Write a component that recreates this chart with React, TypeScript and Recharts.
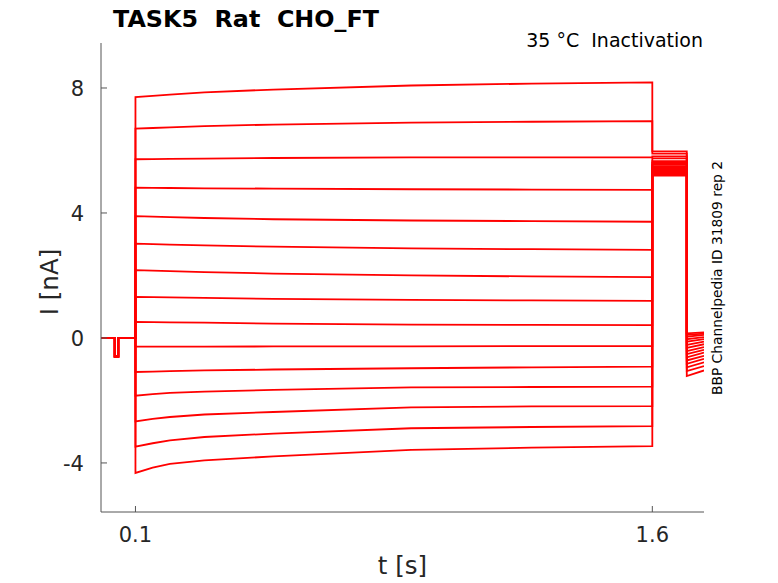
import React from "react";
import { LineChart, Line, XAxis, YAxis } from "recharts";

// holding period with the short test dip
const HOLD_T = [0, 0.04, 0.04, 0.05, 0.05, 0.1];
const HOLD_I = [0, 0, -0.6, -0.6, 0, 0];

// conditioning step, sampled times
const STEP_T = [0.1, 0.15, 0.2, 0.3, 0.5, 0.9, 1.25, 1.6];
const STEP_I = [
  [7.71, 7.75, 7.79, 7.86, 7.95, 8.08, 8.14, 8.18],
  [6.7, 6.72, 6.74, 6.78, 6.83, 6.89, 6.92, 6.94],
  [5.72, 5.725, 5.73, 5.74, 5.76, 5.78, 5.78, 5.78],
  [4.81, 4.805, 4.8, 4.79, 4.78, 4.76, 4.75, 4.74],
  [3.9, 3.885, 3.87, 3.84, 3.8, 3.76, 3.74, 3.72],
  [3.02, 3.005, 2.99, 2.96, 2.92, 2.87, 2.84, 2.82],
  [2.17, 2.155, 2.14, 2.11, 2.06, 2.0, 1.97, 1.95],
  [1.31, 1.305, 1.3, 1.28, 1.25, 1.22, 1.2, 1.19],
  [0.51, 0.505, 0.5, 0.49, 0.46, 0.43, 0.42, 0.41],
  [-0.28, -0.28, -0.28, -0.28, -0.27, -0.27, -0.26, -0.26],
  [-1.09, -1.075, -1.06, -1.04, -1.01, -0.97, -0.94, -0.92],
  [-1.85, -1.8, -1.76, -1.72, -1.66, -1.58, -1.57, -1.56],
  [-2.67, -2.59, -2.53, -2.45, -2.37, -2.22, -2.19, -2.18],
  [-3.48, -3.37, -3.28, -3.17, -3.06, -2.89, -2.85, -2.82],
  [-4.32, -4.15, -4.03, -3.92, -3.79, -3.58, -3.51, -3.46],
];

// test pulse and tail
const TEST_END = 1.7;
const TAIL_END = 1.75;
const TEST_I = [5.97, 5.9, 5.81, 5.75, 5.66, 5.6, 5.54, 5.49, 5.44, 5.4, 5.36, 5.32, 5.28, 5.24, 5.2];
const TAIL_START = [0.15, 0.1, 0.04, -0.04, -0.12, -0.22, -0.32, -0.42, -0.52, -0.62, -0.72, -0.83, -0.94, -1.06, -1.22];
const TAIL_STOP = [0.18, 0.14, 0.1, 0.03, -0.04, -0.12, -0.2, -0.29, -0.38, -0.47, -0.57, -0.67, -0.78, -0.9, -1.04];

const X_TICKS = [0.1, 1.6];
const Y_TICKS = [-4, 0, 4, 8];

const traces = STEP_I.map((step, k) => {
  const pts: { t: number; i: number }[] = [];
  HOLD_T.forEach((t, j) => pts.push({ t, i: HOLD_I[j] }));
  STEP_T.forEach((t, j) => pts.push({ t, i: step[j] }));
  pts.push({ t: 1.6, i: TEST_I[k] });
  pts.push({ t: TEST_END, i: TEST_I[k] });
  pts.push({ t: TEST_END, i: TAIL_START[k] });
  pts.push({ t: TAIL_END, i: TAIL_STOP[k] });
  return pts;
});

const FONT = "'DejaVu Sans', sans-serif";
const TXT = "#262626";
const AXIS = "#555";

const YTick = (props: any) => {
  const { x, y, payload } = props;
  const ax = x + 17;
  return (
    <g>
      <line x1={ax} y1={y} x2={ax + 6} y2={y} stroke={AXIS} />
      <text x={x} y={y} dy="0.36em" textAnchor="end" fontSize={21} fill={TXT} fontFamily={FONT}>
        {payload.value}
      </text>
    </g>
  );
};

const XTick = (props: any) => {
  const { x, y, payload } = props;
  const ay = y - 30;
  return (
    <g>
      <line x1={x} y1={ay} x2={x} y2={ay - 6} stroke={AXIS} />
      <text x={x} y={y} textAnchor="middle" fontSize={21} fill={TXT} fontFamily={FONT}>
        {payload.value.toFixed(1)}
      </text>
    </g>
  );
};

export default function App() {
  return (
    <div style={{ position: "absolute", left: 0, top: 0, width: 778, height: 583, background: "#fff" }}>
      <LineChart width={778} height={583} margin={{ top: 43, right: 74, bottom: 0, left: 0 }}>
        <XAxis
          type="number"
          dataKey="t"
          domain={[0, 1.75]}
          ticks={X_TICKS}
          allowDataOverflow
          height={71}
          tickSize={0}
          tickMargin={30}
          tick={<XTick />}
          axisLine={{ stroke: AXIS }}
        />
        <YAxis
          type="number"
          domain={[-5.57, 9.44]}
          ticks={Y_TICKS}
          allowDataOverflow
          width={101}
          tickSize={0}
          tickMargin={17}
          tick={<YTick />}
          axisLine={{ stroke: AXIS }}
        />
        {traces.map((d, k) => (
          <Line
            key={k}
            data={d}
            dataKey="i"
            type="linear"
            stroke="#ff0000"
            strokeWidth={1.8}
            dot={false}
            isAnimationActive={false}
          />
        ))}
      </LineChart>
      <svg
        width={778}
        height={583}
        style={{ position: "absolute", left: 0, top: 0, pointerEvents: "none" }}
        fontFamily={FONT}
      >
        <text x={113} y={26.7} fontSize={23.8} fontWeight="bold" fill="#000">
          TASK5{"\u00a0\u00a0"}Rat{"\u00a0\u00a0"}CHO_FT
        </text>
        <text x={703} y={47.3} fontSize={19} textAnchor="end" fill="#000">
          35 °C{"\u00a0\u00a0"}Inactivation
        </text>
        <text x={722} y={278} fontSize={13.8} textAnchor="middle" fill="#000" transform="rotate(-90 722 278)">
          BBP Channelpedia ID 31809 rep 2
        </text>
        <text x={57.5} y={282} fontSize={24.5} textAnchor="middle" fill={TXT} transform="rotate(-90 57.5 282)">
          I [nA]
        </text>
        <text x={402.5} y={574} fontSize={24.5} textAnchor="middle" fill={TXT}>
          t [s]
        </text>
      </svg>
    </div>
  );
}
